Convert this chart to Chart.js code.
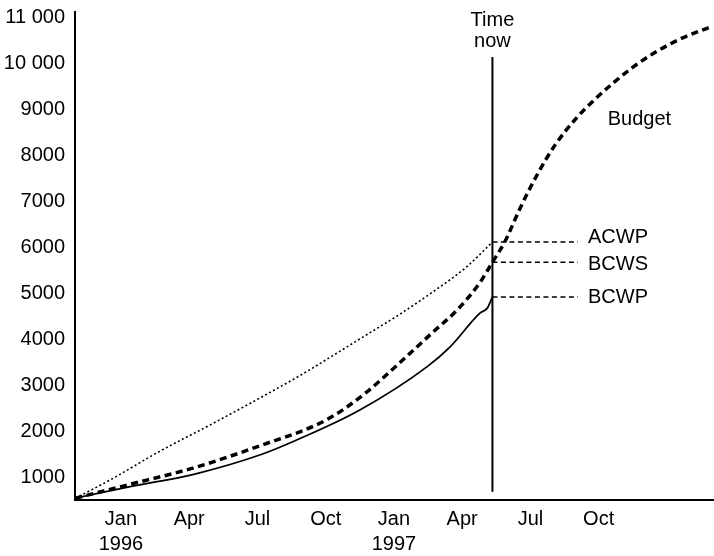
<!DOCTYPE html>
<html>
<head>
<meta charset="utf-8">
<script src="https://cdn.jsdelivr.net/npm/chart.js@4/dist/chart.umd.min.js"></script>
<style>
  body { margin: 0; background: #fff; }
</style>
</head>
<body>
<canvas id="grafico" width="714" height="556"></canvas>
<script>
// months counted from Jan 1996 (0 = Jan 1996)
const budgetMonths = [-2.0, 0.3, 3.2, 6.1, 9.05, 10.8, 12.1, 13.7, 14.8, 15.8, 16.33, 16.88, 17.54, 18.29, 19.08, 20.04, 20.84, 21.63, 22.51, 23.38, 24.57, 25.89];
const budgetValues = [540, 830, 1200, 1680, 2250, 2850, 3420, 4150, 4650, 5250, 5680, 6130, 6850, 7580, 8230, 8830, 9230, 9580, 9930, 10220, 10540, 10800];

const acwpMonths = [-2.0, -0.5, 1.7, 3.9, 6.1, 7.9, 9.3, 10.8, 12.3, 13.7, 15.2, 16.33];
const acwpValues = [540, 930, 1560, 2130, 2720, 3220, 3640, 4100, 4560, 5030, 5580, 6120];

const bcwpMonths = [-2.0, 0.3, 3.2, 6.1, 7.6, 10.5, 13.45, 14.46, 15.78, 16.1, 16.33];
const bcwpValues = [540, 780, 1060, 1480, 1780, 2460, 3400, 3830, 4570, 4680, 4920];

const timeNow = 16.33;
const timeNowRange = [680, 10150];
const leaderEnd = 20.09;
const bcwsNow = 5680;

const xTickValues = [0, 3, 6, 9, 12, 15, 18, 21];
const xTickLabels = [['Jan', '1996'], 'Apr', 'Jul', 'Oct', ['Jan', '1997'], 'Apr', 'Jul', 'Oct'];
const yTickValues = [1000, 2000, 3000, 4000, 5000, 6000, 7000, 8000, 9000, 10000, 11000];
const yTickLabels = ['1000', '2000', '3000', '4000', '5000', '6000', '7000', '8000', '9000', '10 000', '11 000'];

const fonte = "'Liberation Sans', Arial, Helvetica, sans-serif";

function pontos(xs, ys) {
    return xs.map((x, i) => ({ x: x, y: ys[i] }));
}

function leader(v) {
    return [{ x: timeNow, y: v }, { x: leaderEnd, y: v }];
}

const rotulos = {
    id: 'rotulos',
    afterDatasetsDraw(chart) {
        const ctx = chart.ctx;
        const xs = chart.scales.x, ys = chart.scales.y;
        ctx.save();
        ctx.fillStyle = '#000';
        ctx.font = '20px ' + fonte;
        ctx.textBaseline = 'middle';
        ctx.textAlign = 'left';
        const lx = xs.getPixelForValue(leaderEnd) + 10;
        ctx.fillText('ACWP', lx, ys.getPixelForValue(acwpValues[acwpValues.length - 1]) - 5);
        ctx.fillText('BCWS', lx, ys.getPixelForValue(bcwsNow) + 2);
        ctx.fillText('BCWP', lx, ys.getPixelForValue(bcwpValues[bcwpValues.length - 1]));
        ctx.fillText('Budget', xs.getPixelForValue(21.4), ys.getPixelForValue(8780));
        ctx.textAlign = 'center';
        const tx = xs.getPixelForValue(timeNow);
        const top = ys.getPixelForValue(timeNowRange[1]);
        ctx.fillText('Time', tx, top - 37);
        ctx.fillText('now', tx, top - 16);
        ctx.restore();
    }
};

const ctx = document.getElementById('grafico').getContext('2d');
const grafico = new Chart(ctx, {
    type: 'line',
    data: {
        datasets: [
            {
                label: 'Budget',
                data: pontos(budgetMonths, budgetValues),
                borderColor: '#000',
                borderWidth: 3.5,
                borderDash: [7, 4.5],
                cubicInterpolationMode: 'monotone',
                pointRadius: 0
            },
            {
                label: 'ACWP',
                data: pontos(acwpMonths, acwpValues),
                borderColor: '#000',
                borderWidth: 1.6,
                borderDash: [2, 2.5],
                cubicInterpolationMode: 'monotone',
                pointRadius: 0
            },
            {
                label: 'BCWP',
                data: pontos(bcwpMonths, bcwpValues),
                borderColor: '#000',
                borderWidth: 1.8,
                cubicInterpolationMode: 'monotone',
                pointRadius: 0
            },
            {
                label: 'Time now',
                data: [{ x: timeNow, y: timeNowRange[0] }, { x: timeNow, y: timeNowRange[1] }],
                borderColor: '#000',
                borderWidth: 2,
                pointRadius: 0
            },
            {
                label: 'ACWP leader',
                data: leader(acwpValues[acwpValues.length - 1]),
                borderColor: '#000',
                borderWidth: 1.5,
                borderDash: [5, 3.5],
                pointRadius: 0
            },
            {
                label: 'BCWS leader',
                data: leader(bcwsNow),
                borderColor: '#000',
                borderWidth: 1.5,
                borderDash: [5, 3.5],
                pointRadius: 0
            },
            {
                label: 'BCWP leader',
                data: leader(bcwpValues[bcwpValues.length - 1]),
                borderColor: '#000',
                borderWidth: 1.5,
                borderDash: [5, 3.5],
                pointRadius: 0
            }
        ]
    },
    options: {
        responsive: false,
        animation: false,
        layout: { padding: { top: 12, left: 0, right: 0, bottom: 0 } },
        scales: {
            x: {
                type: 'linear',
                min: -2.02,
                max: 26.07,
                afterBuildTicks: s => { s.ticks = xTickValues.map(v => ({ value: v })); },
                afterFit: s => { s.height = 56; s.paddingLeft = 0; s.paddingRight = 0; },
                grid: { display: false, drawTicks: false },
                border: { display: true, color: '#000', width: 2 },
                ticks: {
                    color: '#000',
                    padding: 7,
                    maxRotation: 0,
                    autoSkip: false,
                    font: { family: fonte, size: 20, lineHeight: 1.25 },
                    callback: (v, i) => xTickLabels[i]
                }
            },
            y: {
                type: 'linear',
                min: 500,
                max: 11130,
                afterBuildTicks: s => { s.ticks = yTickValues.map(v => ({ value: v })); },
                afterFit: s => { s.width = 75; s.paddingTop = 0; s.paddingBottom = 0; },
                grid: { display: false, drawTicks: false },
                border: { display: true, color: '#000', width: 2 },
                ticks: {
                    color: '#000',
                    padding: 10,
                    autoSkip: false,
                    font: { family: fonte, size: 20, lineHeight: 1 },
                    callback: (v, i) => yTickLabels[i]
                }
            }
        },
        plugins: {
            legend: { display: false },
            tooltip: { enabled: false }
        }
    },
    plugins: [rotulos]
});
</script>
</body>
</html>
